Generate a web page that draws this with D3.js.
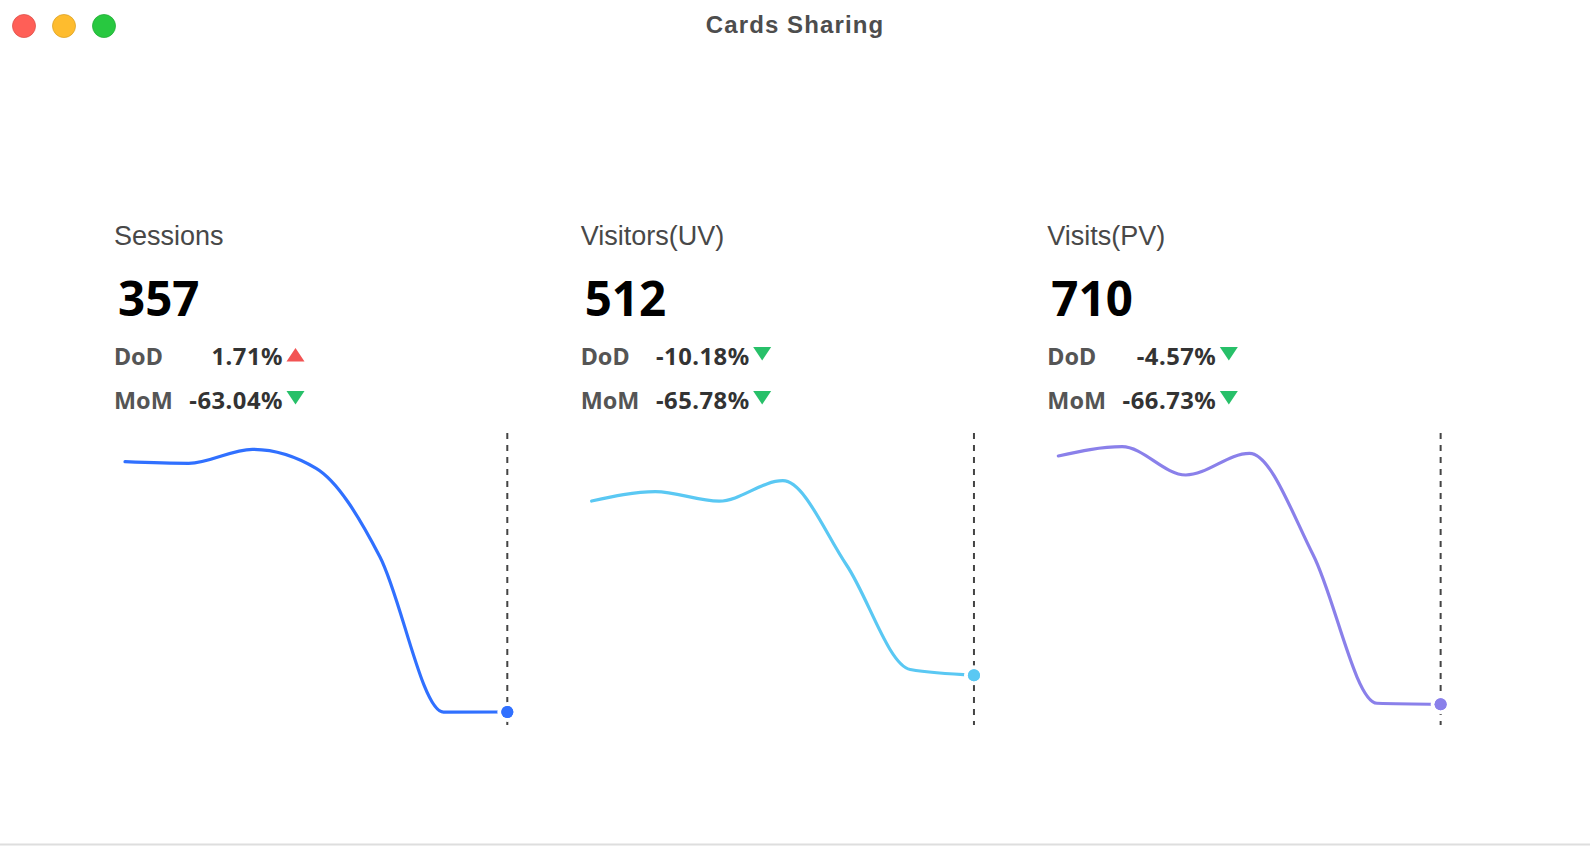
<!DOCTYPE html>
<html>
<head>
<meta charset="utf-8">
<script src="https://cdn.jsdelivr.net/npm/d3@7"></script>
<style>
  html, body { margin: 0; padding: 0; background: #fff; }
  svg { display: block; }
</style>
</head>
<body>
<div id="chart"></div>
<script>
const metrics  = ["Sessions", "Visitors(UV)", "Visits(PV)"];
const totals   = [357, 512, 710];
const dodPct   = [1.71, -10.18, -4.57];
const momPct   = [-63.04, -65.78, -66.73];
const colors   = ["#3070ff", "#5ac8f3", "#8a80ea"];
const days     = ["D1", "D2", "D3", "D4", "D5", "D6", "D7"];

const sessions = [7214, 7170, 7554, 7033, 4612, 351, 357];
const visitors = [2301, 2397, 2300, 2510, 1644, 570, 512];
const visits   = [9213, 9532, 8562, 9305, 5822, 744, 710];
const series   = [sessions, visitors, visits];

const W = 1590, H = 858;
const UP = "#f25353", DOWN = "#27c069";

const fmtPct = v => v.toFixed(2) + "%";

const svg = d3.select("#chart")
  .append("svg")
    .attr("width", W)
    .attr("height", H);

// window chrome
svg.append("line")
  .attr("x1", 0).attr("x2", W)
  .attr("y1", 844.5).attr("y2", 844.5)
  .attr("stroke", "#dedede")
  .attr("stroke-width", 2);

svg.selectAll(".light")
  .data(["#ff5f57", "#febc2e", "#28c840"])
  .join("circle")
    .attr("class", "light")
    .attr("cx", (d, i) => 24 + i * 40)
    .attr("cy", 26)
    .attr("r", 11.5)
    .attr("fill", d => d)
    .attr("stroke", d => d3.color(d).darker(0.4))
    .attr("stroke-width", 0.8);

svg.append("text")
  .attr("x", W / 2)
  .attr("y", 33)
  .attr("text-anchor", "middle")
  .attr("font-family", "Liberation Sans, Arial, sans-serif")
  .attr("font-weight", 700)
  .attr("font-size", 24)
  .attr("letter-spacing", 1.1)
  .attr("fill", "#4d4d4d")
  .text("Cards Sharing");

const panelX = d3.scaleBand()
  .domain(metrics)
  .range([95, 1495]);

const chartTop = 433, chartBottom = 725;

metrics.forEach((name, i) => {
  const lx = panelX(name) + 20;
  const g = svg.append("g");

  g.append("text")
    .attr("x", lx - 1)
    .attr("y", 245)
    .attr("font-family", "Liberation Sans, Arial, sans-serif")
    .attr("font-size", 27)
    .attr("fill", "#484848")
    .text(name);

  g.append("text")
    .attr("x", lx + 3)
    .attr("y", 316)
    .attr("font-family", "Noto Sans, sans-serif")
    .attr("font-weight", 700)
    .attr("font-size", 47.5)
    .attr("fill", "#000")
    .text(totals[i]);

  const rows = [
    { label: "DoD", pct: dodPct[i], y: 365 },
    { label: "MoM", pct: momPct[i], y: 409 }
  ];

  rows.forEach(r => {
    g.append("text")
      .attr("x", lx - 1)
      .attr("y", r.y)
      .attr("font-family", "Noto Sans, sans-serif")
      .attr("font-weight", 700)
      .attr("font-size", 23.4)
      .attr("fill", "#555")
      .text(r.label);

    g.append("text")
      .attr("x", lx + 168)
      .attr("y", r.y)
      .attr("text-anchor", "end")
      .attr("font-family", "Noto Sans, sans-serif")
      .attr("font-weight", 700)
      .attr("font-size", 23.8)
      .attr("letter-spacing", 0.5)
      .attr("fill", "#333")
      .text(fmtPct(r.pct));

    const tx = lx + 180.5, up = r.pct >= 0;
    const tri = up
      ? [[tx - 9, r.y - 3.5], [tx + 9, r.y - 3.5], [tx, r.y - 17]]
      : [[tx - 9, r.y - 18], [tx + 9, r.y - 18], [tx, r.y - 4.5]];
    g.append("path")
      .attr("d", d3.line()(tri) + "Z")
      .attr("fill", up ? UP : DOWN);
  });

  // sparkline
  const data = series[i];
  const x = d3.scalePoint()
    .domain(days)
    .range([lx + 10, lx + 392.3]);
  const y = d3.scaleLinear()
    .domain([0, d3.max(data)])
    .nice(5)
    .range([chartBottom, chartTop]);

  const lastX = x(days[days.length - 1]);

  g.append("line")
    .attr("x1", lastX).attr("x2", lastX)
    .attr("y1", chartTop).attr("y2", chartBottom)
    .attr("stroke", "#444")
    .attr("stroke-width", 2)
    .attr("stroke-dasharray", "6,6");

  g.append("path")
    .datum(data)
    .attr("fill", "none")
    .attr("stroke", colors[i])
    .attr("stroke-width", 3.2)
    .attr("stroke-linecap", "round")
    .attr("d", d3.line()
      .x((d, j) => x(days[j]))
      .y(d => y(d))
      .curve(d3.curveMonotoneX));

  g.append("circle")
    .attr("cx", lastX)
    .attr("cy", y(data[data.length - 1]))
    .attr("r", 6)
    .attr("fill", colors[i])
    .attr("stroke", "#fff")
    .attr("stroke-width", 8)
    .attr("paint-order", "stroke");

  g.append("circle")
    .attr("cx", lastX)
    .attr("cy", y(data[data.length - 1]))
    .attr("r", 6)
    .attr("fill", colors[i]);
});
</script>
</body>
</html>
